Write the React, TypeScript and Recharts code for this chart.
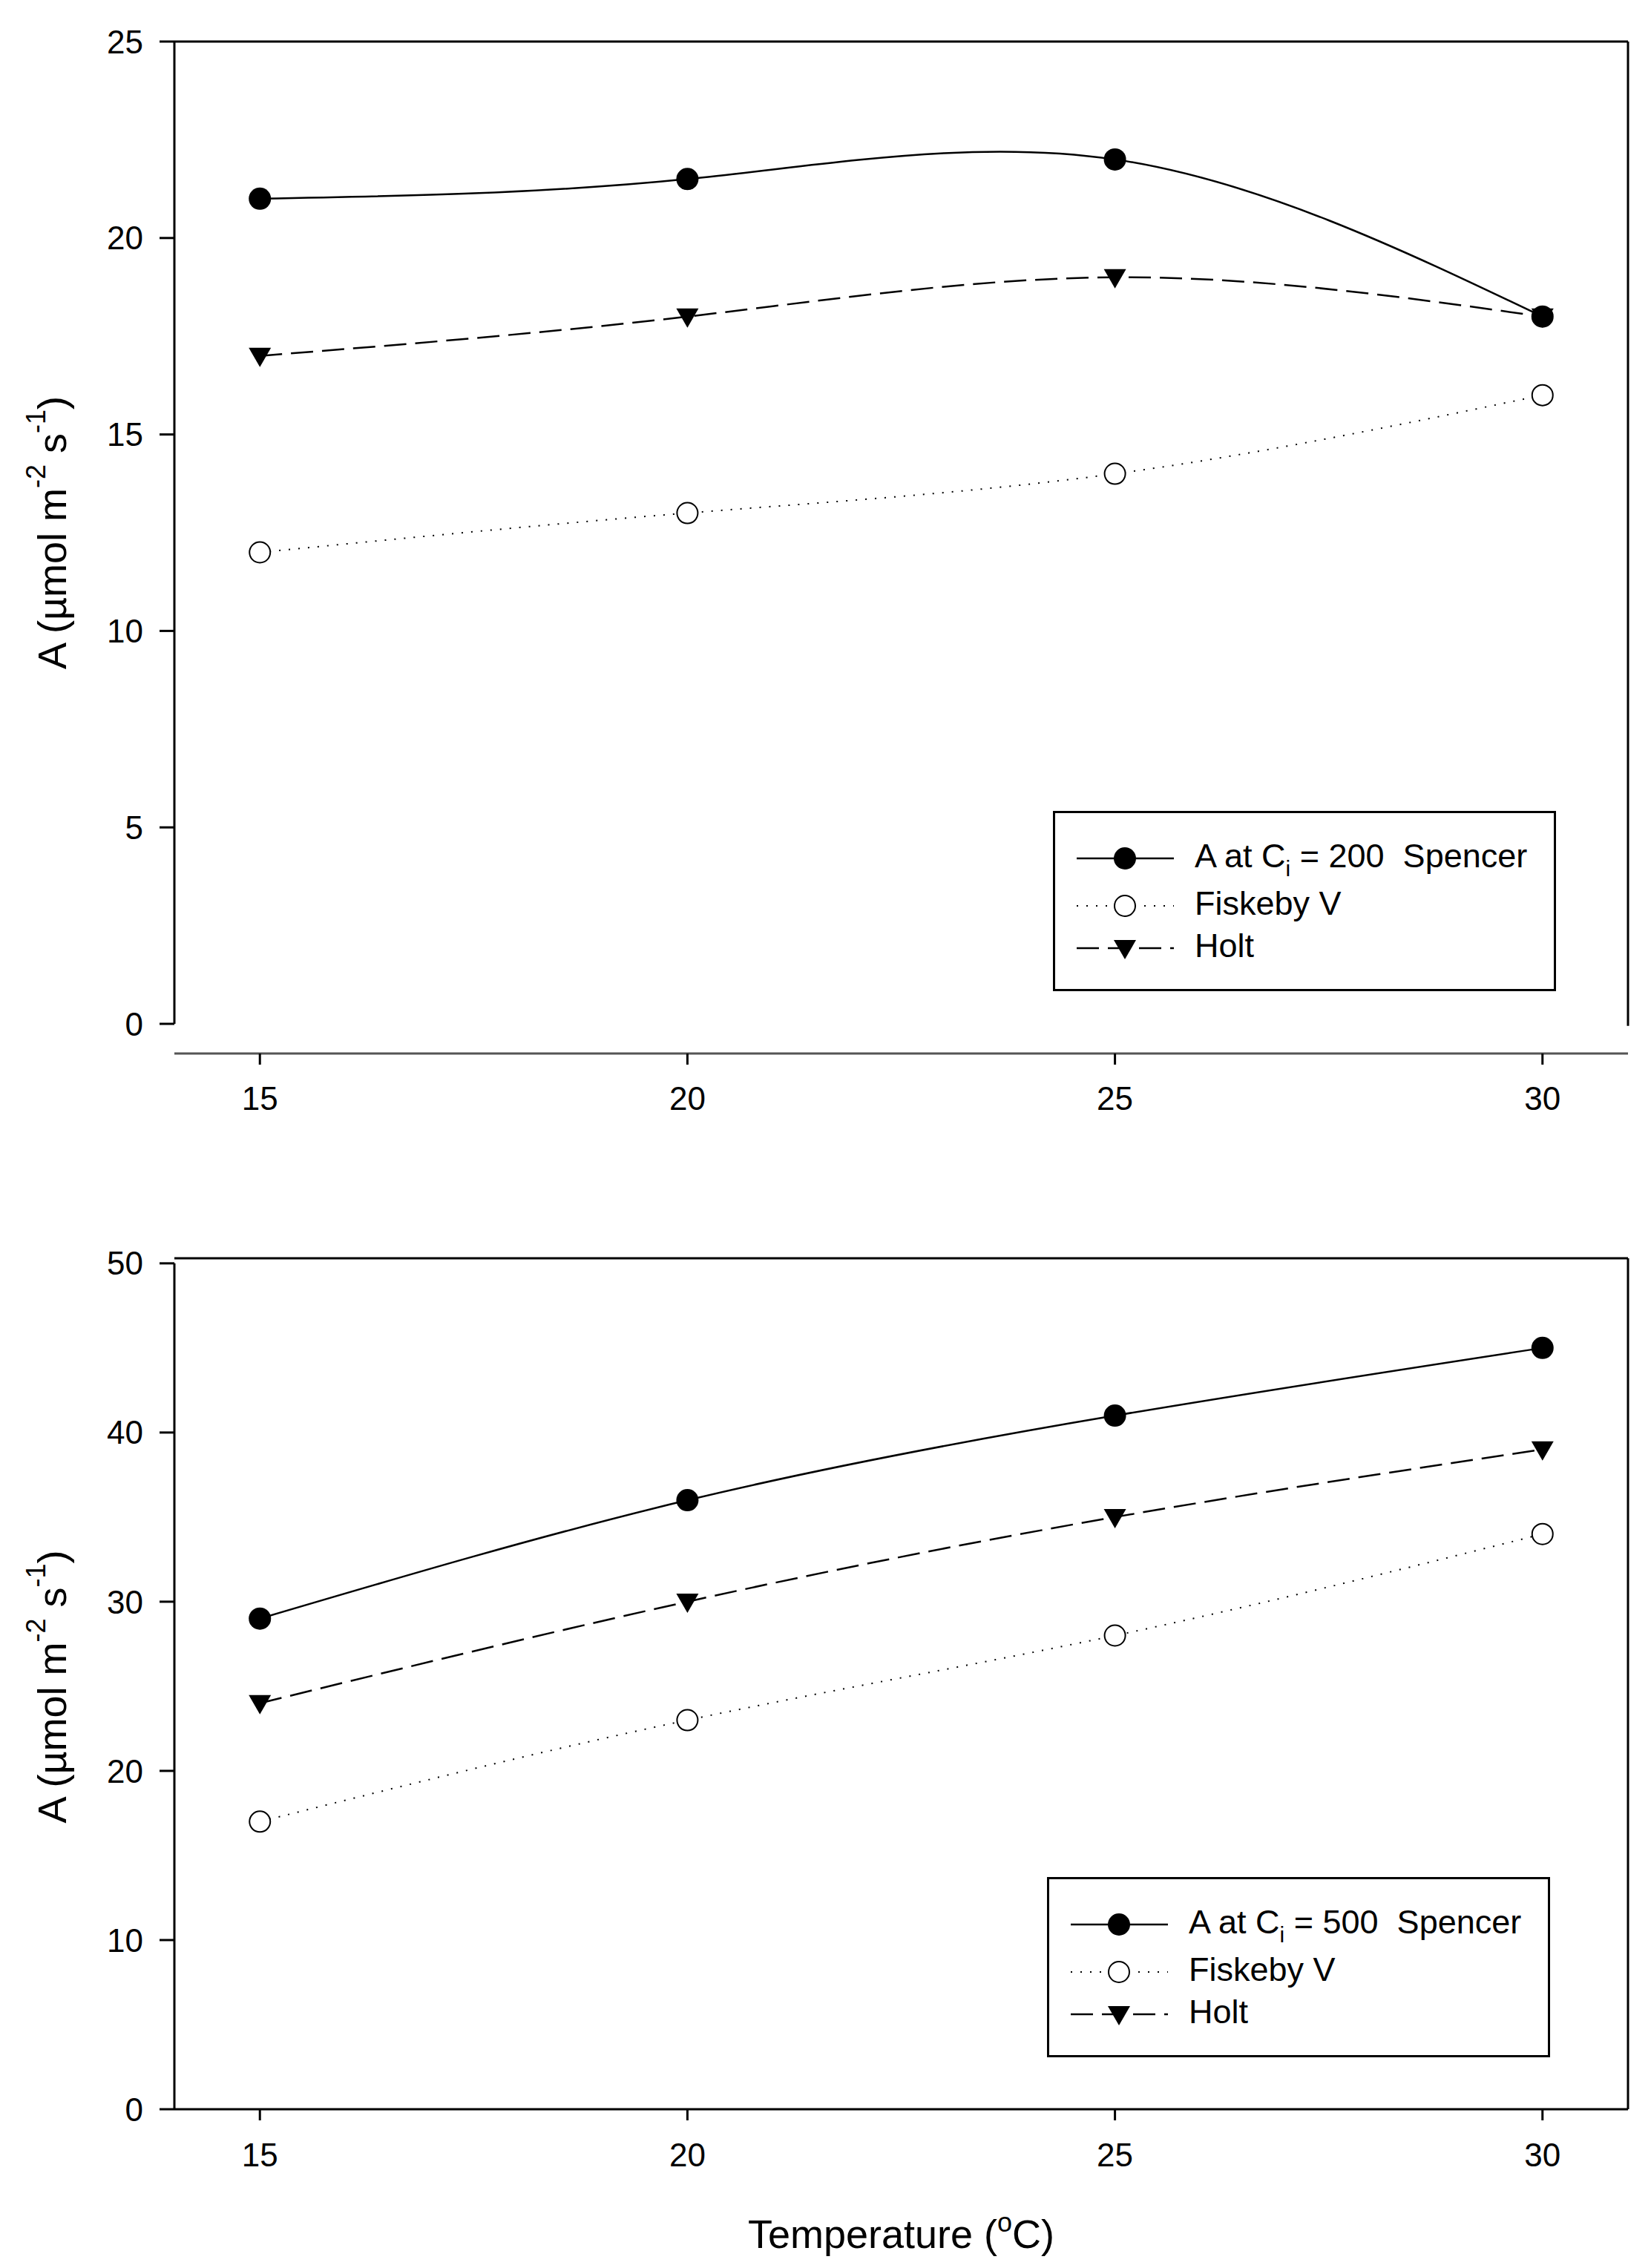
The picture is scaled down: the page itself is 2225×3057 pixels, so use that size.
import React from 'react';
import { LineChart, Line, XAxis, YAxis, ReferenceLine, Legend } from 'recharts';

// temperatures (°C) measured
const temps = [15, 20, 25, 30];
const xTicks = [15, 20, 25, 30];

// A at Ci = 200
const spencer200 = [21, 21.5, 22, 18];
const fiskeby200 = [12, 13, 14, 16];
const holt200 = [17, 18, 19, 18];
const yTicks200 = [0, 5, 10, 15, 20, 25];

// A at Ci = 500
const spencer500 = [29, 36, 41, 45];
const fiskeby500 = [17, 23, 28, 34];
const holt500 = [24, 30, 35, 39];
const yTicks500 = [0, 10, 20, 30, 40, 50];

const FONT = "'Liberation Sans', Arial, sans-serif";

const rows200 = temps.map((t, i) => ({ temp: t, spencer: spencer200[i], fiskeby: fiskeby200[i], holt: holt200[i] }));
const rows500 = temps.map((t, i) => ({ temp: t, spencer: spencer500[i], fiskeby: fiskeby500[i], holt: holt500[i] }));

const FilledDot = (p: any) => <circle key={p.index} cx={p.cx} cy={p.cy} r={15} fill="#000" />;
const OpenDot = (p: any) => (
  <circle key={p.index} cx={p.cx} cy={p.cy} r={14} fill="#fff" stroke="#000" strokeWidth={2} />
);
const TriDot = (p: any) => (
  <path key={p.index} d={`M${p.cx - 15},${p.cy - 11} L${p.cx + 15},${p.cy - 11} L${p.cx},${p.cy + 15} Z`} fill="#000" />
);

const lineStyle: Record<string, { dash?: string; width: number; Dot: any }> = {
  spencer: { width: 2.5, Dot: FilledDot },
  fiskeby: { dash: '2 11', width: 2, Dot: OpenDot },
  holt: { dash: '30 12', width: 2.5, Dot: TriDot },
};

const YTitle = ({ viewBox, shiftY = 0 }: any) => {
  const cx = viewBox.x + 70;
  const cy = viewBox.y + viewBox.height / 2 + shiftY;
  return (
    <text
      x={cx}
      y={cy}
      transform={`rotate(-90 ${cx} ${cy})`}
      textAnchor="middle"
      dominantBaseline="central"
      fontSize={54}
      fontFamily={FONT}
      fill="#000"
    >
      A (µmol m<tspan dy={-22} fontSize={36}>-2</tspan>
      <tspan dy={22}> s</tspan>
      <tspan dy={-22} fontSize={36}>-1</tspan>
      <tspan dy={22}>)</tspan>
    </text>
  );
};

const XTitle = ({ viewBox }: any) => (
  <text x={viewBox.x + viewBox.width / 2} y={viewBox.y + 187} textAnchor="middle" fontSize={54} fontFamily={FONT} fill="#000">
    Temperature (<tspan dy={-22} fontSize={36}>o</tspan>
    <tspan dy={22}>C)</tspan>
  </text>
);

const LegendBox = ({ payload }: any) => {
  const ys = [64, 128, 185];
  return (
    <svg width={678} height={243}>
      <rect x={1.5} y={1.5} width={675} height={240} fill="#fff" stroke="#000" strokeWidth={3} />
      {(payload || []).map((entry: any, i: number) => {
        const st = lineStyle[entry.dataKey];
        const y = ys[i];
        const name: string = entry.value;
        const parts = name.split('Ci');
        return (
          <g key={entry.dataKey}>
            <line x1={32} x2={163} y1={y} y2={y} stroke="#000" strokeWidth={st.width} strokeDasharray={st.dash} />
            {st.Dot({ cx: 97, cy: y, index: i })}
            <text x={191} y={y + 12} fontSize={45} fontFamily={FONT} fill="#000" style={{ whiteSpace: 'pre' }}>
              {parts.length > 1 ? (
                <>
                  {parts[0]}C<tspan dy={12} fontSize={30}>i</tspan>
                  <tspan dy={-12}>{parts[1]}</tspan>
                </>
              ) : (
                name
              )}
            </text>
          </g>
        );
      })}
    </svg>
  );
};

const tickFont = { fontSize: 44, fill: '#000', fontFamily: FONT };
const black = { stroke: '#000', strokeWidth: 3 };

export default function App() {
  return (
    <div style={{ position: 'absolute', left: 0, top: 0, width: 2225, height: 3057, background: '#fff' }}>
      <LineChart width={2225} height={1540} data={rows200} margin={{ top: 56, right: 31, bottom: 40, left: 0 }}>
        <XAxis
          type="number"
          dataKey="temp"
          domain={[14, 31]}
          ticks={xTicks}
          height={80}
          axisLine={{ stroke: '#555', strokeWidth: 3 }}
          tickLine={black}
          tickSize={15}
          tickMargin={30}
          tick={tickFont}
        />
        <YAxis
          type="number"
          domain={[-0.755, 25]}
          ticks={yTicks200}
          width={235}
          axisLine={false}
          tickLine={black}
          tickSize={20}
          tickMargin={22}
          tick={tickFont}
          label={<YTitle shiftY={-20} />}
        />
        <ReferenceLine segment={[{ x: 14, y: 0 }, { x: 14, y: 25 }]} {...black} />
        <ReferenceLine segment={[{ x: 14, y: 25 }, { x: 31, y: 25 }]} {...black} />
        <ReferenceLine segment={[{ x: 31, y: -0.05 }, { x: 31, y: 25 }]} {...black} />
        <Legend
          layout="horizontal"
          align="center"
          verticalAlign="middle"
          wrapperStyle={{ left: 1419, top: 1093, width: 678, height: 243 }}
          content={<LegendBox />}
        />
        {(['spencer', 'fiskeby', 'holt'] as const).map((k) => (
          <Line
            key={k}
            type="natural"
            dataKey={k}
            name={k === 'spencer' ? 'A at Ci = 200  Spencer' : k === 'fiskeby' ? 'Fiskeby V' : 'Holt'}
            stroke="#000"
            strokeWidth={lineStyle[k].width}
            strokeDasharray={lineStyle[k].dash}
            dot={lineStyle[k].Dot}
            activeDot={false}
            isAnimationActive={false}
          />
        ))}
      </LineChart>
      <LineChart width={2225} height={1517} data={rows500} margin={{ top: 156, right: 31, bottom: 0, left: 0 }}>
        <XAxis
          type="number"
          dataKey="temp"
          domain={[14, 31]}
          ticks={xTicks}
          height={214}
          axisLine={black}
          tickLine={black}
          tickSize={15}
          tickMargin={31}
          tick={tickFont}
          label={<XTitle />}
        />
        <YAxis
          type="number"
          domain={[0, 50.3]}
          ticks={yTicks500}
          width={235}
          axisLine={false}
          tickLine={black}
          tickSize={20}
          tickMargin={22}
          tick={tickFont}
          label={<YTitle shiftY={4} />}
        />
        <ReferenceLine segment={[{ x: 14, y: 0 }, { x: 14, y: 50 }]} {...black} />
        <ReferenceLine segment={[{ x: 14, y: 50.3 }, { x: 31, y: 50.3 }]} {...black} />
        <ReferenceLine segment={[{ x: 31, y: 0 }, { x: 31, y: 50.3 }]} {...black} />
        <Legend
          layout="horizontal"
          align="center"
          verticalAlign="middle"
          wrapperStyle={{ left: 1411, top: 990, width: 678, height: 243 }}
          content={<LegendBox />}
        />
        {(['spencer', 'fiskeby', 'holt'] as const).map((k) => (
          <Line
            key={k}
            type="natural"
            dataKey={k}
            name={k === 'spencer' ? 'A at Ci = 500  Spencer' : k === 'fiskeby' ? 'Fiskeby V' : 'Holt'}
            stroke="#000"
            strokeWidth={lineStyle[k].width}
            strokeDasharray={lineStyle[k].dash}
            dot={lineStyle[k].Dot}
            activeDot={false}
            isAnimationActive={false}
          />
        ))}
      </LineChart>
    </div>
  );
}
